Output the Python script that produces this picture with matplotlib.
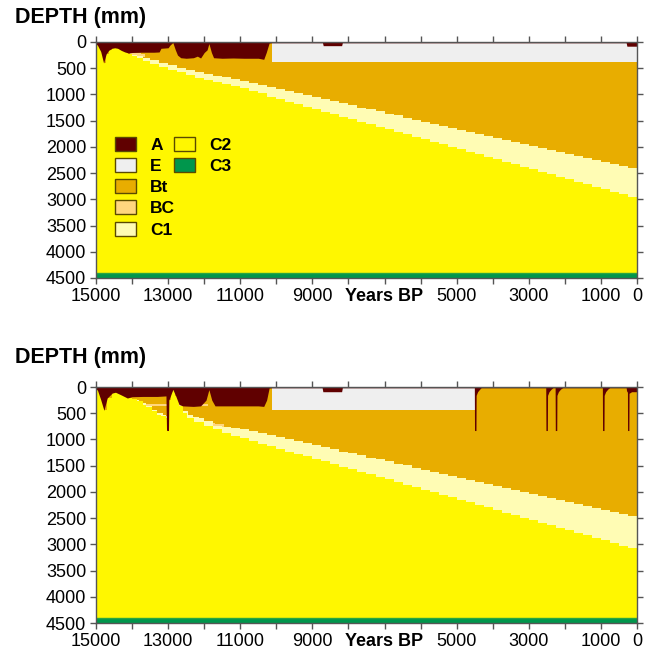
import matplotlib
matplotlib.use("Agg")
import matplotlib.pyplot as plt
from matplotlib.patches import Patch

plt.rcParams['font.family'] = ['Liberation Sans', 'DejaVu Sans']

# ---------------- colours of the horizons ----------------
horizons = ["A", "E", "Bt", "BC", "C1", "C2", "C3"]
colors = {"A": "#600000", "E": "#efefef", "Bt": "#e8ad00", "BC": "#ffd67e",
          "C1": "#fffcb4", "C2": "#fff700", "C3": "#00964c"}

# ---------------- axis ticks ----------------
x_ticks = [15000, 14000, 13000, 12000, 11000, 10000, 9000, 8000, 7000,
           6000, 5000, 4000, 3000, 2000, 1000, 0]
x_labels = ["15000", "", "13000", "", "11000", "", "9000", "", "Years BP",
            "", "5000", "", "3000", "", "1000", "0"]
y_ticks = [0, 500, 1000, 1500, 2000, 2500, 3000, 3500, 4000, 4500]
c3_top = 4400
max_depth = 4500

# ================= TOP PANEL =================
top_a_years = [15000, 14960, 14870, 14790, 14720, 14650, 14560, 14480, 14400, 14300,
               14200, 14100, 14000, 13750, 13400, 13250, 13200, 13000, 12950, 12870,
               12800, 12740, 12650, 12500, 12300, 12190, 12100, 12000, 11920, 11870,
               11800, 11740, 11500, 11200, 10900, 10500, 10350, 10280, 10200, 10130,
               10000, 8720, 8700, 8190, 8170, 300, 280, 0]
top_a_depth = [40, 60, 180, 400, 230, 160, 120, 110, 120, 160,
               190, 210, 200, 195, 195, 190, 120, 110, 60, 10,
               150, 250, 300, 310, 300, 270, 305, 200, 150, 30,
               200, 300, 310, 305, 310, 310, 330, 200, 20, 15,
               15, 15, 70, 70, 15, 15, 80, 80]

top_e_years = [10130, 0]
top_e_depth = [380, 380]

top_bc_years = [14050, 13900, 13750, 13650]
top_bc_top = [215, 215, 225, 225]
top_bc_bot = [265, 265, 280, 280]

top_c1_years = [14100, 14000, 13850, 13700, 13500, 13250, 13000, 12750, 12500, 12250,
                12000, 11750, 11500, 11250, 11000, 10750, 10500, 10250, 10000, 9750,
                9500, 9250, 9000, 8750, 8500, 8250, 8000, 7750, 7500, 7250,
                7000, 6750, 6500, 6250, 6000, 5750, 5500, 5250, 5000, 4750,
                4500, 4250, 4000, 3750, 3500, 3250, 3000, 2750, 2500, 2250,
                2000, 1750, 1500, 1250, 1000, 750, 500, 250, 0]
top_c1_depth = [230, 255, 275, 305, 350, 400, 445, 490, 525, 565,
                605, 640, 670, 700, 740, 780, 820, 860, 900, 940,
                980, 1015, 1055, 1095, 1130, 1170, 1210, 1250, 1285, 1325,
                1365, 1400, 1440, 1480, 1520, 1555, 1595, 1635, 1670, 1710,
                1750, 1790, 1825, 1865, 1905, 1940, 1980, 2020, 2060, 2095,
                2135, 2175, 2210, 2250, 2290, 2330, 2365, 2405, 2445]

top_c2_years = [15000, 14950, 14870, 14790, 14720, 14650, 14560, 14480, 14400, 14300,
                14200, 14100, 14000, 13850, 13700, 13500, 13250, 13000, 12750, 12500,
                12250, 12000, 11750, 11500, 11250, 11000, 10750, 10500, 10250, 10000,
                9750, 9500, 9250, 9000, 8750, 8500, 8250, 8000, 7750, 7500,
                7250, 7000, 6750, 6500, 6250, 6000, 5750, 5500, 5250, 5000,
                4750, 4500, 4250, 4000, 3750, 3500, 3250, 3000, 2750, 2500,
                2250, 2000, 1750, 1500, 1250, 1000, 750, 500, 250, 0]
top_c2_depth = [40, 60, 180, 400, 230, 160, 120, 110, 120, 160,
                190, 230, 260, 300, 370, 420, 480, 530, 580, 630,
                680, 720, 760, 800, 840, 880, 930, 980, 1040, 1090,
                1140, 1190, 1235, 1285, 1330, 1380, 1425, 1475, 1520, 1570,
                1615, 1665, 1710, 1760, 1805, 1855, 1905, 1950, 2000, 2045,
                2095, 2140, 2190, 2235, 2285, 2330, 2380, 2425, 2475, 2520,
                2570, 2615, 2665, 2710, 2760, 2805, 2855, 2905, 2950, 3000]

# ================= BOTTOM PANEL =================
bot_a_years = [15000, 14960, 14870, 14780, 14690, 14550, 14460, 14320, 14130, 14000,
               13700, 13300, 13060, 13045, 13030, 12990, 12980, 12870, 12790, 12700,
               12600, 12300, 12100, 11950, 11870, 11790, 11700, 11000, 10500, 10350,
               10270, 10200, 10130, 10000, 8730, 8710, 8190, 8170,
               4510, 4505, 4465, 4460, 4420, 4360, 4320,
               2530, 2525, 2485, 2480, 2440, 2380, 2330,
               2270, 2265, 2225, 2220, 2180, 2120, 2060,
               960, 955, 915, 910, 870, 810, 760,
               300, 290, 265, 262, 225, 220, 150, 0]
bot_a_depth = [40, 60, 240, 445, 210, 115, 100, 145, 210, 185,
               180, 180, 170, 820, 830, 830, 250, 45, 170, 330,
               360, 370, 360, 250, 50, 250, 360, 360, 360, 370,
               250, 20, 15, 15, 15, 90, 90, 15,
               15, 830, 830, 160, 90, 40, 15,
               15, 830, 830, 160, 90, 40, 15,
               15, 830, 830, 160, 90, 40, 15,
               15, 830, 830, 160, 90, 40, 15,
               15, 70, 100, 830, 830, 120, 90, 90]

bot_e_years = [10130, 4505]
bot_e_depth = [440, 440]

bot_bc_years = [13900, 13750, 13650, 11900, 11700, 11450]
bot_bc_top = [300, 320, 320, 690, 700, 700]
bot_bc_bot = [350, 360, 360, 745, 760, 760]

bot_c1_years = [13900, 13800, 13600, 13450, 13300, 13150, 13050, 13000, 12700, 12600,
                12450, 12300, 12150, 12000, 11750, 11500, 11250, 11000, 10750, 10500,
                10250, 10000, 9750, 9500, 9250, 9000, 8750, 8500, 8250, 8000,
                7750, 7500, 7250, 7000, 6750, 6500, 6250, 6000, 5750, 5500,
                5250, 5000, 4750, 4500, 4250, 4000, 3750, 3500, 3250, 3000,
                2750, 2500, 2250, 2000, 1750, 1500, 1250, 1000, 750, 500, 250, 0]
bot_c1_depth = [250, 300, 370, 430, 490, 530, 555, 360, 360, 460,
                530, 565, 600, 640, 740, 760, 780, 810, 845, 880,
                920, 960, 995, 1035, 1075, 1110, 1150, 1190, 1230, 1265,
                1305, 1345, 1380, 1420, 1460, 1495, 1535, 1575, 1615, 1650,
                1690, 1730, 1770, 1805, 1845, 1885, 1920, 1960, 2000, 2035,
                2075, 2115, 2150, 2190, 2230, 2270, 2305, 2345, 2385, 2420, 2460, 2500]

bot_c2_years = [15000, 14960, 14870, 14780, 14690, 14550, 14460, 14320, 14130, 14000,
                13850, 13700, 13600, 13450, 13300, 13200, 13070, 13000, 12990, 12930,
                12870, 12800, 12700, 12600, 12470, 12280, 12000, 11750, 11500, 11250,
                11000, 10750, 10500, 10250, 10000, 9750, 9500, 9250, 9000, 8750,
                8500, 8250, 8000, 7750, 7500, 7250, 7000, 6750, 6500, 6250,
                6000, 5750, 5500, 5250, 5000, 4750, 4500, 4250, 4000, 3750,
                3500, 3250, 3000, 2750, 2500, 2250, 2000, 1750, 1500, 1250,
                1000, 750, 500, 250, 0]
bot_c2_depth = [40, 60, 240, 445, 210, 115, 100, 145, 210, 230,
                275, 340, 390, 460, 525, 560, 590, 600, 250, 100,
                45, 180, 370, 495, 590, 675, 750, 810, 870, 925,
                975, 1025, 1080, 1130, 1180, 1230, 1275, 1325, 1375, 1420,
                1470, 1520, 1565, 1615, 1665, 1715, 1760, 1810, 1860, 1905,
                1955, 2005, 2055, 2100, 2150, 2200, 2245, 2295, 2345, 2395,
                2440, 2490, 2540, 2585, 2635, 2685, 2735, 2780, 2830, 2880,
                2925, 2975, 3025, 3070, 3120]

panels = [
    dict(a=(top_a_years, top_a_depth), e=(top_e_years, top_e_depth),
         bc=(top_bc_years, top_bc_top, top_bc_bot), c1=(top_c1_years, top_c1_depth),
         c2=(top_c2_years, top_c2_depth)),
    dict(a=(bot_a_years, bot_a_depth), e=(bot_e_years, bot_e_depth),
         bc=(bot_bc_years, bot_bc_top, bot_bc_bot), c1=(bot_c1_years, bot_c1_depth),
         c2=(bot_c2_years, bot_c2_depth)),
]

fig = plt.figure(figsize=(6.52, 6.56), dpi=100)
axes_rects = [[96/652, 1-278/656, 541/652, 236/656],
              [96/652, 1-623/656, 541/652, 236/656]]
label_y = [18, 357]

for p, rect, ly in zip(panels, axes_rects, label_y):
    ax = fig.add_axes(rect)
    ax.set_xlim(15000, 0)
    ax.set_ylim(max_depth, 0)
    kw = dict(linewidth=0, antialiased=False)
    # Bt as the base horizon
    ax.fill_between([15000, 0], 0, max_depth, color=colors["Bt"], **kw)
    # E
    ex, ed = p["e"]
    ax.fill_between(ex, 0, ed, color=colors["E"], **kw)
    # BC
    bx, bt, bb = p["bc"]
    ax.fill_between(bx, bt, bb, step="post", color=colors["BC"], **kw)
    # C1
    cx, cd = p["c1"]
    ax.fill_between(cx, cd, max_depth, step="post", color=colors["C1"], **kw)
    # C2
    cx, cd = p["c2"]
    ax.fill_between(cx, cd, max_depth, step="post", color=colors["C2"], **kw)
    # C3
    ax.fill_between([15000, 0], c3_top, max_depth, color=colors["C3"], **kw)
    ax.plot([15000, 0], [c3_top, c3_top], color="#2aa640", lw=1)
    # A on top
    axx, ad = p["a"]
    ax.fill_between(axx, 0, ad, color=colors["A"], linewidth=0)

    ax.set_xticks(x_ticks)
    ax.set_xticklabels(x_labels, fontsize=13)
    for lab in ax.get_xticklabels():
        if lab.get_text() == "Years BP":
            lab.set_fontweight("bold")
    ax.set_yticks(y_ticks)
    ax.set_yticklabels([str(v) for v in y_ticks], fontsize=13)
    ax.tick_params(axis="both", direction="out", length=4, width=1, color="#555555",
                   top=True, right=True, labeltop=False, labelright=False, pad=3)
    for s in ax.spines.values():
        s.set_color("#555555")
        s.set_linewidth(1)
    fig.text(15/652, 1-ly/656, "DEPTH (mm)", fontsize=15.5, fontweight="bold",
             ha="left", va="center")

    if ly == 18:
        col1 = ["A", "E", "Bt", "BC", "C1"]
        col2 = ["C2", "C3"]
        lkw = dict(frameon=False, prop=dict(weight="bold", size=12.5), handlelength=1.2,
                   handleheight=0.86, handletextpad=0.8, labelspacing=0.30,
                   borderaxespad=0, borderpad=0, loc="upper left")
        h1 = [Patch(facecolor=colors[h], edgecolor="#5a4a00", lw=1, label=h) for h in col1]
        h2 = [Patch(facecolor=colors[h], edgecolor="#5a4a00", lw=1, label=h) for h in col2]
        leg1 = ax.legend(handles=h1, bbox_to_anchor=(0.036, 0.598), **lkw)
        ax.add_artist(leg1)
        ax.legend(handles=h2, bbox_to_anchor=(0.145, 0.598), **lkw)

fig.savefig("out.png", dpi=100)
